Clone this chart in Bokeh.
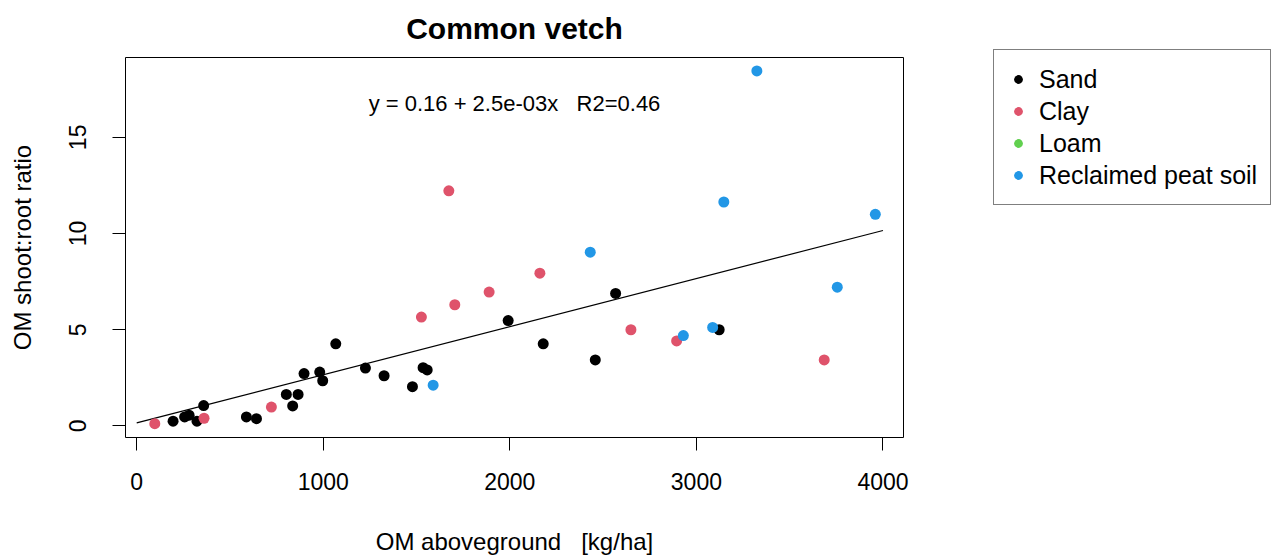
from bokeh.plotting import figure
from bokeh.models import Range1d, FixedTicker, Label, Legend, LegendItem, ColumnDataSource
from bokeh.embed import file_html
from bokeh.resources import INLINE

# ---- data ----
sand_x = [195, 257, 281, 323, 359, 588, 642, 802, 836, 865, 897, 981, 997, 1067,
          1226, 1326, 1478, 1535, 1557, 1991, 2179, 2458, 2567, 3122]
sand_y = [0.25, 0.47, 0.56, 0.25, 1.06, 0.47, 0.38, 1.64, 1.04, 1.64, 2.72, 2.80, 2.35, 4.27,
          3.01, 2.61, 2.04, 3.03, 2.91, 5.48, 4.27, 3.43, 6.89, 5.00]
clay_x = [97, 361, 722, 1526, 1673, 1705, 1889, 2161, 2649, 2894, 3685]
clay_y = [0.12, 0.40, 0.98, 5.66, 12.22, 6.30, 6.96, 7.94, 5.00, 4.42, 3.43]
loam_x = []   # no Loam observations in this panel (only shown in the legend)
loam_y = []
peat_x = [1589, 2431, 2930, 3087, 3147, 3324, 3755, 3959]
peat_y = [2.12, 9.03, 4.70, 5.12, 11.64, 18.45, 7.21, 11.00]

soil_names = ["Sand", "Clay", "Loam", "Reclaimed peat soil"]
soil_colors = ["#000000", "#DF536B", "#61D04F", "#2297E6"]

fit_intercept = 0.16
fit_slope = 2.5e-3
fit_x = [0, 4000]
fit_y = [fit_intercept + fit_slope * v for v in fit_x]
NB = "\u00a0"
fit_text = "y = 0.16 + 2.5e-03x" + NB * 3 + "R2=0.46"
x_title = "OM aboveground" + NB * 3 + "[kg/ha]"

x_ticks = [0, 1000, 2000, 3000, 4000]
y_ticks = [0, 5, 10, 15]

FONT = "Liberation Sans"

p = figure(frame_width=778, frame_height=380,
           min_border_left=125, min_border_right=371,
           min_border_top=57, min_border_bottom=122,
           x_range=Range1d(-60, 4110), y_range=Range1d(-0.6, 19.15),
           output_backend="svg", toolbar_location=None,
           title="Common vetch")

p.title.align = "center"
p.title.vertical_align = "top"
p.title.text_font = FONT
p.title.text_font_size = "30px"
p.title.text_font_style = "bold"
p.title.text_color = "black"
p.title.standoff = 22

p.outline_line_color = "black"
p.outline_line_width = 1
p.xgrid.visible = False
p.ygrid.visible = False
p.background_fill_color = "white"
p.border_fill_color = "white"

for ax in (p.xaxis[0], p.yaxis[0]):
    ax.axis_line_color = None
    ax.major_tick_line_color = "black"
    ax.major_tick_out = 13
    ax.major_tick_in = 0
    ax.minor_tick_line_color = None
    ax.major_label_text_font = FONT
    ax.major_label_text_font_size = "23px"
    ax.major_label_text_color = "black"
    ax.axis_label_text_font = FONT
    ax.axis_label_text_font_size = "24px"
    ax.axis_label_text_font_style = "normal"
    ax.axis_label_text_color = "black"

p.xaxis.ticker = FixedTicker(ticks=x_ticks)
p.yaxis.ticker = FixedTicker(ticks=y_ticks)
p.xaxis.axis_label = x_title
p.yaxis.axis_label = "OM shoot:root ratio"
p.xaxis.major_label_standoff = 22
p.xaxis.axis_label_standoff = 35
p.yaxis.major_label_orientation = "vertical"
p.yaxis.major_label_standoff = 26
p.yaxis.axis_label_standoff = 31

p.line(fit_x, fit_y, line_color="black", line_width=1.2)

rends = []
for xs, ys, c in zip([sand_x, clay_x, loam_x, peat_x], [sand_y, clay_y, loam_y, peat_y], soil_colors):
    # an empty group still needs one (non-drawn) NaN row so that its legend glyph is rendered
    src = ColumnDataSource(data=dict(x=xs if xs else [float("nan")], y=ys if ys else [float("nan")]))
    r = p.scatter("x", "y", source=src, size=11, fill_color=c, line_color=c, line_width=0)
    rends.append(r)

p.add_layout(Label(x=2025, y=16.76, text=fit_text, text_align="center", text_baseline="middle",
                   text_font=FONT, text_font_size="22px", text_color="black"))

legend = Legend(items=[LegendItem(label=n, renderers=[r]) for n, r in zip(soil_names, rends)],
                location=(90, 232))
legend.border_line_color = "black"
legend.border_line_width = 1
legend.background_fill_color = "white"
legend.background_fill_alpha = 1
legend.label_text_font = FONT
legend.label_text_font_size = "25px"
legend.label_text_color = "black"
legend.glyph_width = 22
legend.glyph_height = 32
legend.label_height = 32
legend.label_standoff = 10
legend.spacing = 0
legend.padding = 13
legend.margin = 0
p.add_layout(legend, "right")

open("out.html", "w").write(file_html(p, INLINE))
